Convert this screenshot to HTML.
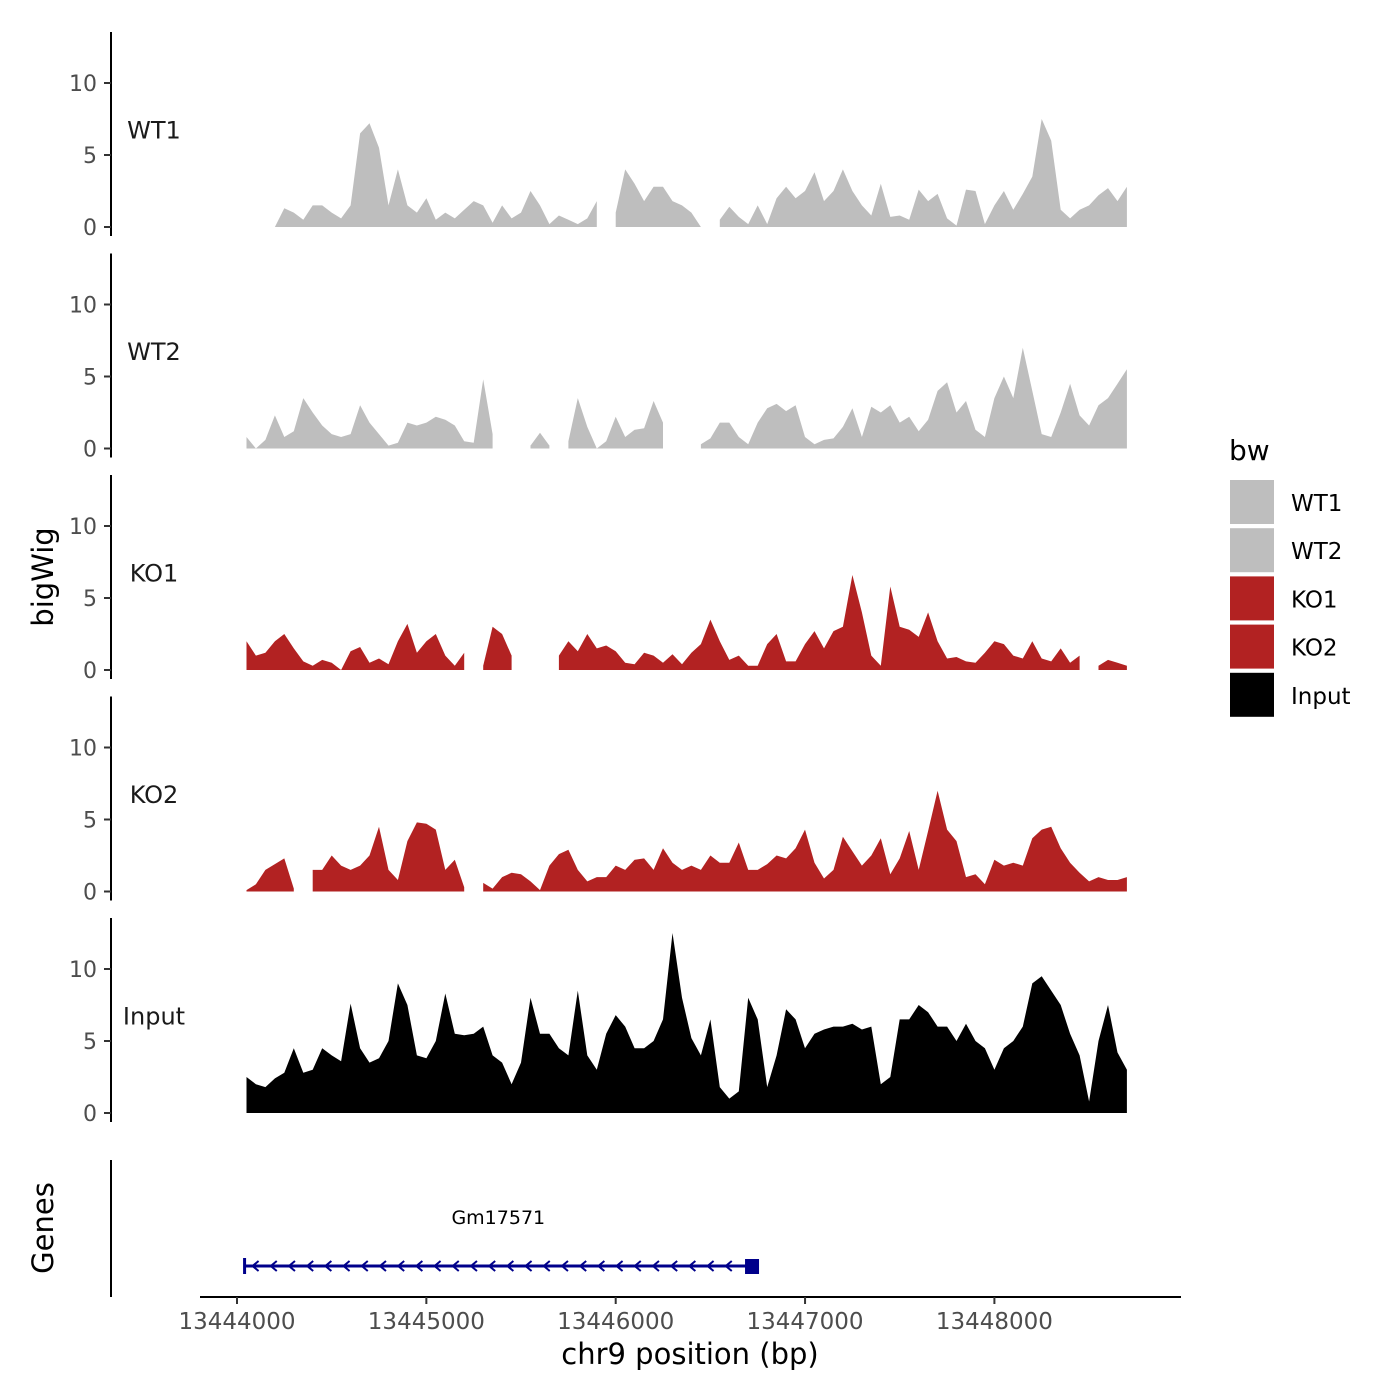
<!DOCTYPE html>
<html><head><meta charset="utf-8"><style>
html,body{margin:0;padding:0;background:#fff}
svg{display:block}
text{font-family:"DejaVu Sans","Liberation Sans",sans-serif}
</style></head><body>
<svg id="chart" width="1400" height="1400" viewBox="0 0 1400 1400" xmlns="http://www.w3.org/2000/svg">
<rect width="1400" height="1400" fill="#fff"/>
<g id="tracks"></g>
<g id="gene"></g>
<g id="axes"></g>
<g id="legend"></g>
</svg>
<script>
const startPos = 13444050;
const stepBp = 50;
const samples = ["WT1","WT2","KO1","KO2","Input"];
const xTicks = [13444000,13445000,13446000,13447000,13448000];
const yTicks = [0,5,10];
const wt1 = [null,null,null,0,1.3,1.0,0.5,1.5,1.5,1.0,0.6,1.5,6.5,7.2,5.5,1.5,4.0,1.5,1.0,2.0,0.5,1.0,0.6,1.2,1.8,1.5,0.3,1.5,0.6,1.0,2.5,1.5,0.2,0.8,0.5,0.2,0.6,1.8,null,1.0,4.0,3.0,1.8,2.8,2.8,1.8,1.5,1.0,0,null,0.5,1.4,0.7,0.2,1.5,0.2,2.0,2.8,2.0,2.5,3.8,1.8,2.5,4.0,2.5,1.5,0.8,3.0,0.7,0.8,0.5,2.6,1.8,2.3,0.6,0.1,2.6,2.5,0.2,1.5,2.5,1.2,2.3,3.5,7.5,6.0,1.2,0.6,1.2,1.5,2.2,2.7,1.8,2.8];
const wt2 = [0.8,0.0,0.6,2.3,0.8,1.2,3.5,2.5,1.6,1.0,0.8,1.0,3.0,1.8,1.0,0.2,0.4,1.8,1.6,1.8,2.2,2.0,1.6,0.5,0.4,4.8,1.0,null,null,null,0.2,1.1,0.2,null,0.5,3.5,1.5,0,0.5,2.2,0.8,1.3,1.4,3.3,1.8,null,null,null,0.3,0.7,1.8,1.8,0.8,0.3,1.8,2.8,3.1,2.6,3.0,0.8,0.3,0.6,0.7,1.5,2.8,0.8,2.9,2.5,3.0,1.8,2.2,1.2,2.0,4.0,4.6,2.5,3.3,1.3,0.8,3.5,5.0,3.5,7.0,4.0,1.0,0.8,2.5,4.5,2.3,1.6,3.0,3.5,4.5,5.5];
const ko1 = [2.0,1.0,1.2,2.0,2.5,1.5,0.6,0.3,0.7,0.5,0,1.3,1.6,0.5,0.8,0.4,2.0,3.2,1.2,2.0,2.5,1.0,0.3,1.2,null,0.3,3.0,2.5,1.0,null,null,null,null,1.0,2.0,1.3,2.5,1.5,1.7,1.3,0.5,0.4,1.2,1.0,0.5,1.1,0.4,1.2,1.8,3.5,2.0,0.7,1.0,0.3,0.3,1.8,2.5,0.6,0.6,1.8,2.7,1.5,2.7,3.0,6.6,4.0,1.0,0.3,5.8,3.0,2.8,2.3,4.0,2.0,0.8,0.9,0.6,0.5,1.2,2.0,1.8,1.0,0.8,2.0,0.8,0.6,1.5,0.5,1.0,null,0.3,0.7,0.5,0.3];
const ko2 = [0.1,0.5,1.5,1.9,2.3,0.2,null,1.5,1.5,2.5,1.8,1.5,1.8,2.5,4.5,1.5,0.8,3.5,4.8,4.7,4.3,1.5,2.2,0.3,null,0.6,0.2,1.0,1.3,1.2,0.7,0.1,1.8,2.6,2.9,1.5,0.7,1.0,1.0,1.8,1.5,2.2,2.3,1.5,3.0,2.0,1.5,1.8,1.5,2.5,2.0,2.0,3.4,1.5,1.5,1.9,2.5,2.3,3.0,4.3,2.0,0.9,1.5,3.8,2.8,1.8,2.5,3.7,1.2,2.3,4.2,1.5,4.2,7.0,4.3,3.5,1.0,1.2,0.5,2.2,1.8,2.0,1.8,3.7,4.3,4.5,3.0,2.0,1.3,0.7,1.0,0.8,0.8,1.0];
const input = [2.5,2.0,1.8,2.4,2.8,4.5,2.8,3.0,4.5,4.0,3.6,7.6,4.5,3.5,3.8,5.0,9.0,7.5,4.0,3.8,5.0,8.3,5.5,5.4,5.5,6.0,4.0,3.5,2.0,3.5,8.0,5.5,5.5,4.5,4.0,8.5,4.0,3.0,5.5,6.8,6.0,4.5,4.5,5.0,6.5,12.5,8.0,5.2,4.0,6.5,1.8,1.0,1.5,8.0,6.5,1.8,4.0,7.2,6.5,4.5,5.5,5.8,6.0,6.0,6.2,5.8,6.0,2.0,2.5,6.5,6.5,7.5,7.0,6.0,6.0,5.0,6.2,5.0,4.5,3.0,4.5,5.0,6.0,9.0,9.5,8.5,7.5,5.5,4.0,0.8,5.0,7.5,4.2,3.0];
const seriesData = [wt1, wt2, ko1, ko2, input];
const colors = ["#BEBEBE","#BEBEBE","#B22222","#B22222","#000000"];
const geneName = "Gm17571";
const geneStart = 13444040;
const geneEnd = 13446720;

const NS = "http://www.w3.org/2000/svg";
function xScale(p){ return 237 + (p - 13444000) * 0.18935; }
const panelTop = i => 32 + 221.5*i;
const baseY = i => 227 + 221.5*i;
function yScale(i, v){ return baseY(i) - v*14.4; }
function mk(tag, attrs, parent){ const e=document.createElementNS(NS,tag); for(const k in attrs) e.setAttribute(k,attrs[k]); parent.appendChild(e); return e; }

const tracks = document.getElementById('tracks');
const axes = document.getElementById('axes');
seriesData.forEach((vals, si) => {
  let seg = [];
  const segs = [];
  vals.forEach((v, j) => {
    if (v === null) { if (seg.length) segs.push(seg); seg = []; }
    else seg.push([startPos + j*stepBp, v]);
  });
  if (seg.length) segs.push(seg);
  segs.forEach(s => {
    let d = "M" + xScale(s[0][0]).toFixed(1) + "," + baseY(si);
    s.forEach(p => { d += "L" + xScale(p[0]).toFixed(1) + "," + yScale(si, p[1]).toFixed(1); });
    d += "L" + xScale(s[s.length-1][0]).toFixed(1) + "," + baseY(si) + "Z";
    const path = mk('path', {d: d, fill: colors[si]}, tracks);
    
    
  });
  const ax = mk('line', {x1:111, x2:111, y1:panelTop(si), y2:baseY(si)+9, stroke:'#000', 'stroke-width':2}, axes);
  
  
  yTicks.forEach(t => {
    const y = yScale(si, t);
    const tk = mk('line', {x1:104, x2:111, y1:y, y2:y, stroke:'#333', 'stroke-width':2}, axes);
    
    
    const tl = mk('text', {x:97, y:y+8, 'text-anchor':'end', 'font-size':22, fill:'#4d4d4d'}, axes);
    tl.textContent = t;
    
    
  });
  const lab = mk('text', {x:154, y:yScale(si, 6.3)+2, 'text-anchor':'middle', 'font-size':24, fill:'#1a1a1a'}, axes);
  lab.textContent = samples[si];
  
  
});

// gene track
const gene = document.getElementById('gene');
const gx1 = xScale(geneStart), gx2 = xScale(geneEnd);
const gl = mk('line', {x1:gx1, x2:gx2, y1:1266, y2:1266, stroke:'#00008B', 'stroke-width':3}, gene);


const gs = mk('line', {x1:gx1, x2:gx1, y1:1258, y2:1274, stroke:'#00008B', 'stroke-width':3}, gene);


for (let x = gx1 + 8; x < gx2 - 10; x += 18.2) {
  const a = mk('path', {d:`M${x+6},1261 L${x},1266 L${x+6},1271`, fill:'none', stroke:'#00008B', 'stroke-width':2}, gene);
  
  
}
const gb = mk('rect', {x:gx2-7, y:1259, width:14, height:15, fill:'#00008B'}, gene);


const gt = mk('text', {x:(gx1+gx2)/2, y:1224, 'text-anchor':'middle', 'font-size':19, fill:'#000'}, gene);
gt.textContent = geneName;


const ga = mk('line', {x1:111, x2:111, y1:1160, y2:1297, stroke:'#000', 'stroke-width':2}, axes);



// x axis
const xa = mk('line', {x1:200, x2:1181, y1:1297, y2:1297, stroke:'#000', 'stroke-width':2}, axes);


xTicks.forEach(t => {
  const x = xScale(t);
  const tk = mk('line', {x1:x, x2:x, y1:1297, y2:1304, stroke:'#333', 'stroke-width':2}, axes);
  
  
  const tl = mk('text', {x:x, y:1329, 'text-anchor':'middle', 'font-size':23, fill:'#4d4d4d'}, axes);
  tl.textContent = t;
  
  
});
const xt = mk('text', {x:690, y:1364, 'text-anchor':'middle', 'font-size':29, fill:'#000'}, axes);
xt.textContent = 'chr9 position (bp)';


const yt = mk('text', {x:0, y:0, transform:'translate(53,577) rotate(-90)', 'text-anchor':'middle', 'font-size':29, fill:'#000'}, axes);
yt.textContent = 'bigWig';


const gyt = mk('text', {x:0, y:0, transform:'translate(53,1228) rotate(-90)', 'text-anchor':'middle', 'font-size':29, fill:'#000'}, axes);
gyt.textContent = 'Genes';



// legend
const legend = document.getElementById('legend');
const lt = mk('text', {x:1229, y:460, 'font-size':28, fill:'#000'}, legend);
lt.textContent = 'bw';


samples.forEach((s, i) => {
  const y = 480 + 48.2*i;
  const r = mk('rect', {x:1230, y:y, width:44, height:44, fill:colors[i]}, legend);
  
  
  const t = mk('text', {x:1291, y:y+31, 'font-size':23, fill:'#000'}, legend);
  t.textContent = s;
  
  
});
</script>
</body></html>
